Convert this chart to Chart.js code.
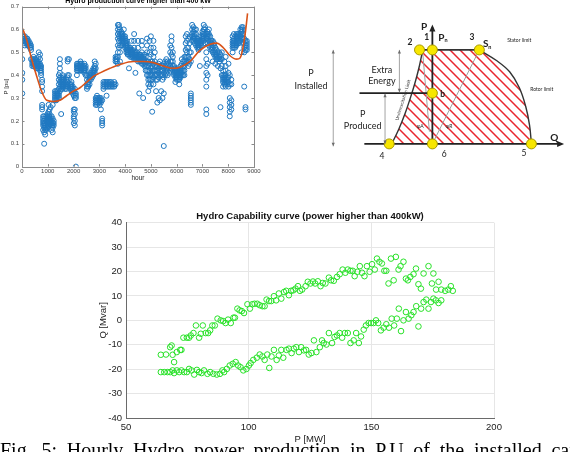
<!DOCTYPE html>
<html><head><meta charset="utf-8">
<script src="https://cdn.jsdelivr.net/npm/chart.js@4.4.1/dist/chart.umd.min.js"></script>
<style>
html,body{margin:0;padding:0;background:#fff;width:570px;height:452px;overflow:hidden;position:relative}
canvas{position:absolute}
#c1{left:0;top:0}
#c2{left:280px;top:0}
#c3{left:0;top:200px}
#cap{position:absolute;left:0;top:439px;width:618px;font-family:"Liberation Serif";font-size:20px;white-space:nowrap;color:#000;text-align:justify;text-align-last:justify;z-index:5}
</style></head>
<body>
<canvas id="c1" width="280" height="184"></canvas>
<canvas id="c2" width="290" height="200"></canvas>
<canvas id="c3" width="570" height="245"></canvas>
<div id="cap">Fig. 5: Hourly Hydro power production in P.U of the installed capacity</div>
<script>
// ---------- Top-left: hourly hydro production (p.u.) ----------
const prodHours = [10,60,110,160,210,260,310,350,400,450,500,550,600,650,700,740,780,820,860,900,940,990,1030,1070,1110,1150,1190,1230,
1280,1330,1380,1430,1470,1520,1570,1620,1670,1720,1770,1820,1870,1920,1970,2010,2050,2090,2130,2170,2220,2270,2320,2370,2420,2470,
2520,2570,2620,2670,2720,2770,2820,2860,2910,2960,3010,3060,3110,3160,3220,3280,3340,3400,3460,3520,3580,3630,3680,3720,3760,3800,
3850,3900,3950,4000,4050,4100,4150,4200,4250,4300,4350,4400,4450,4500,4550,4600,4650,4700,4750,4800,4850,4900,4950,5000,5050,5100,
5150,5200,5250,5300,5350,5400,5450,5500,5550,5600,5650,5700,5750,5800,5850,5900,5950,6000,6050,6100,6150,6200,6250,6300,6350,6400,
6450,6500,6550,6600,6650,6700,6750,6800,6850,6900,6950,7000,7050,7100,7150,7200,7250,7300,7350,7400,7450,7500,7550,7600,7650,7700,
7750,7800,7850,7900,7950,8010,8060,8120,8170,8220,8270,8320,8370,8420,8470,8520,8570,8620,8670,8720];
const prodPu = [
[.55,.56,.57,.47,.41,.38,.32],[.54,.55,.56,.57],[.53,.55,.56,.57],[.54,.55,.56],[.53,.54,.55,.56],[.53,.54,.55],[.52,.53,.54],[.51,.52,.53,.47],
[.44,.45,.46,.47],[.44,.45,.46,.47,.48],[.44,.45,.46,.47],[.43,.44,.45,.46,.47],[.43,.44,.45,.46],[.43,.44,.45,.46,.48,.50],[.42,.43,.44,.45,.47,.49],
[.40,.41,.42,.43,.44],[.33,.35,.37,.38,.27,.25,.26],[.16,.18,.19,.20,.21,.22],[.15,.17,.18,.19,.20,.22,.10],[.14,.16,.17,.18,.19,.21],[.16,.17,.18,.20,.22],
[.17,.19,.20,.21,.22,.23],[.18,.20,.21,.22,.24,.27],[.19,.20,.21,.22,.23,.25],[.18,.19,.20,.21,.26],[.16,.18,.19,.20,.22],[.15,.17,.18,.19,.21,.27],[.18,.19,.20],
[.29,.30,.31,.32,.33],[.29,.30,.31,.32,.33],[.30,.31,.32,.33],[.30,.31,.32,.34,.36,.38,.40],[.33,.35,.37,.39,.41,.43,.45,.47],[.34,.35,.36,.37,.38,.39,.23],
[.34,.35,.36,.37,.38,.40],[.35,.36,.37,.38,.39],[.34,.35,.36,.37],[.34,.35,.36,.38],[.35,.37,.39,.40,.46,.47],[.36,.38,.40,.47],[.34,.35,.36],
[.33,.34,.35,.36,.37],[.32,.33,.34,.35],[.19,.21,.22,.24,.25,.31,.33],[.18,.20,.23,.25,.30,.32,.34],[.30,.31,.32,.00],[.40,.42,.43,.44,.45],
[.42,.43,.44,.45],[.42,.43,.44,.45],[.42,.43,.44,.45,.46],[.42,.43,.44,.45],[.42,.43,.44],[.41,.42,.43,.44,.45],[.40,.42,.43,.44],
[.34,.35,.36,.38,.40],[.35,.36,.37,.39],[.36,.38,.39,.40],[.38,.39,.40,.41],[.39,.40,.41,.42],[.40,.41,.42,.43],[.41,.42,.43,.44,.46],
[.27,.28,.29,.30,.43,.45],[.27,.28,.29,.30,.31],[.28,.29,.30],[.27,.28,.29,.30],[.28,.29,.30,.25],[.18,.19,.20,.21,.29],[.34,.35,.36,.37],
[.35,.36,.37],[.35,.36,.37,.31],[.35,.36,.37],[.35,.36,.37],[.35,.36,.37],[.35,.36],[.35,.36,.37],[.46,.47,.48,.36],[.46,.47,.48],
[.45,.48,.50,.53,.56,.58,.60,.62],[.52,.55,.57,.59,.61,.62],[.46,.50,.53,.56,.58,.60],[.53,.55,.56,.57,.58,.59],[.54,.55,.56,.57,.58],
[.54,.55,.56,.57,.60],[.52,.53,.54,.55,.56,.57],[.50,.51,.52,.53,.54,.55],[.49,.50,.51,.52,.53],[.49,.50,.51,.52,.43],[.48,.49,.50,.51,.52],
[.48,.49,.50,.51,.55],[.48,.49,.50,.51],[.47,.48,.49,.50,.52,.55,.58],[.47,.48,.49,.50,.41],[.47,.48,.49,.50],[.46,.47,.48,.49,.52,.55],
[.46,.47,.48,.49,.32],[.46,.47,.48,.49],[.45,.46,.47,.48,.50,.53,.55],[.45,.46,.47,.48,.30],[.44,.46,.47,.49],[.42,.44,.45,.46,.48],
[.40,.42,.44,.46,.50,.53,.56],[.36,.38,.40,.42,.44,.46,.33],[.35,.38,.40,.42,.45,.50,.55],[.36,.38,.40,.43,.46,.49,.52,.57],[.38,.40,.42,.44,.46,.24],
[.36,.39,.42,.45,.48,.52,.55],[.40,.42,.44,.46,.50],[.38,.40,.42,.44,.33],[.38,.40,.42,.44,.28],[.39,.41,.43,.45,.30],[.40,.42,.44,.46,.29],
[.40,.42,.44,.33],[.38,.40,.42,.44,.30],[.39,.41,.43,.45,.32,.09],[.40,.42,.44,.46],[.41,.43,.45,.47],[.40,.42,.44,.46],[.41,.43,.45],
[.42,.44,.46,.50,.53],[.43,.46,.49,.52,.55,.57],[.44,.46,.48,.50],[.40,.41,.42,.43,.44],[.39,.40,.41,.42,.43,.37],[.38,.39,.40,.41,.42],
[.38,.39,.40,.41,.42,.43],[.38,.39,.40,.41,.42,.36],[.39,.40,.41,.42,.44],[.40,.41,.42,.43,.45,.47],[.40,.42,.44,.46],[.40,.42,.44,.46,.48],
[.45,.48,.51,.54,.57],[.46,.48,.50,.52,.55,.58],[.44,.46,.48,.52,.56],[.45,.47,.50,.54,.57],[.27,.28,.29,.30,.31,.32,.46,.50],
[.55,.57,.58,.60,.62],[.55,.56,.57,.59,.61],[.54,.56,.57,.58,.60],[.53,.55,.56,.58,.60],[.52,.53,.54,.55,.56],[.51,.52,.53,.54,.55],
[.52,.53,.54,.55,.44],[.53,.54,.55,.57],[.55,.56,.57,.58,.59],[.55,.56,.57,.58,.60,.62],[.54,.56,.58,.60,.61],
[.35,.38,.41,.44,.47,.50,.56,.58,.25,.23],[.54,.56,.57,.58,.59,.40,.45],[.53,.55,.57,.58,.60],[.52,.54,.55,.57],[.51,.52,.54,.55],
[.50,.52,.53,.55,.46],[.49,.50,.51,.53,.54],[.48,.49,.50,.52,.45],[.47,.48,.49,.51],[.47,.48,.50,.44],[.46,.47,.48,.50],[.43,.47,.49,.26],
[.40,.44,.47,.50],[.35,.37,.38,.39,.40,.42],[.36,.37,.38,.39,.40,.46],[.35,.37,.38,.40,.42,.44,.48],[.36,.37,.38,.39],[.35,.37,.39,.41,.45],
[.22,.24,.26,.28,.30,.36,.40],[.25,.27,.29,.36,.38],[.50,.52,.53,.54,.55,.57],[.52,.53,.54,.55,.56,.58],[.52,.53,.54,.55,.57],[.53,.54,.56,.57,.58],
[.54,.55,.56,.57,.58],[.54,.55,.56,.57,.58],[.55,.56,.57,.58,.60],[.56,.58,.59,.60,.61,.50],[.54,.56,.58,.60,.61],[.50,.52,.54,.56,.35],
[.51,.53,.55,.25,.26],[.51,.52,.53,.54,.55]];
const fitHours = [0,180,375,570,760,960,1220,1475,1730,1990,2250,2510,2770,3030,3415,3800,4320,4710,5100,5485,5870,6130,6520,6910,7300,7550,7810,8070,8330,8460,8590,8680,8750];
const fitPu = [0.61,0.555,0.47,0.395,0.33,0.29,0.285,0.29,0.31,0.33,0.345,0.37,0.395,0.41,0.43,0.447,0.46,0.46,0.455,0.44,0.43,0.435,0.46,0.51,0.535,0.54,0.52,0.485,0.47,0.475,0.53,0.60,0.67];
const hourTicks = [0,1000,2000,3000,4000,5000,6000,7000,8000,9000];

// ---------- Top-right: capability diagram (Q, P in p.u. of Pn) ----------
const opNames = ['1','2','3','4','5','6','b'];
const opQ = [0,-0.13,0.474,-0.436,1.0,0,0];
const opP = [1,1,1,0,0,0,0.54];
const underexcQ = [-0.41,-0.335,-0.272,-0.219,-0.171,-0.13,-0.097];
const underexcP = [0,0.167,0.334,0.5,0.667,0.834,1];
const statorQ = [-0.13,0.474];
const statorP = [1,1];
const rotorQ = [0.474,0.651,0.780,0.877,0.942,0.981,1.0];
const rotorP = [1,0.884,0.767,0.6,0.4,0.2,0];

// ---------- Bottom: capability curve measured points ----------
const capUpper = [[64.2,-14.1],[66.3,-14.0],[68.0,-11.0],[69.0,-14.1],[68.6,-10.3],[69.6,-17.1],[70.7,-13.0],[72.1,-12.1],[72.6,-12.1],[73.4,-7.1],
[74.8,-7.1],[75.7,-7.1],[76.4,-6.2],[77.5,-5.2],[78.5,-2.1],[79.8,-7.1],[80.5,-5.5],[81.3,-2.1],[82.5,-5.2],[83.5,-5.2],[84.3,-4.1],[85.2,-2.1],
[86.2,-2.1],[87.3,0.7],[88.6,0],[89.6,-0.3],[90.6,-1.1],[91.6,0.3],[92.7,-1.1],[93.8,1.1],[94.4,1.1],[95.4,4.8],[96.3,4.1],[97.2,3.8],[98.1,3.0],
[99.5,6.6],[100.5,4.8],[101.5,6.6],[102.4,6.8],[103.5,6.8],[104.5,6.2],[105.6,5.8],[106.5,5.8],[107.3,8.5],[108.3,7.9],[109.2,7.9],[110.3,9.9],
[111.2,8.2],[112.3,11.0],[113.3,8.9],[114.4,11.6],[115.3,12.1],[116.4,10.3],[117.3,12.1],[118.2,12.3],[119.1,13.0],[120.1,14.0],[120.9,12.1],
[121.8,12.6],[123.2,14.0],[124.1,15.8],[125.2,15.1],[126.2,15.9],[127.1,15.1],[128.2,16.0],[129.3,14.0],[130.2,15.3],[131.3,15.1],[132.7,17.5],
[133.6,16.4],[134.7,16.2],[136.0,17.8],[137.1,18.9],[138.3,20.8],[139.4,19.5],[140.4,20.8],[141.5,20.3],[142.4,20.3],[143.2,18.1],[144.3,19.9],
[145.3,22.2],[146.2,19.5],[147.2,18.1],[148.2,22.2],[149.3,19.9],[150.3,23.0],[151.4,20.8],[152.3,25.3],[153.3,24.0],[154.3,23.3],[155.3,20.3],
[156.1,20.3],[157.0,15.1],[158.0,25.3],[159.1,16.4],[160.0,26.0],[161.1,20.8],[161.9,22.2],[163.1,24.0],[164.1,17.1],[164.9,16.4],[165.9,17.8],
[167.2,18.9],[168.2,21.2],[169.2,14.8],[170.2,13.0],[171.3,19.2],[173.3,22.2],[174.7,15.1],[175.3,19.2],[176.4,12.6],[177.4,15.8],[178.5,12.6],
[180.1,12.1],[181.4,12.6],[182.4,14.0],[183.2,12.1]];
const capLower = [[64.2,-21.2],[65.6,-21.2],[66.9,-21.2],[68.0,-21.2],[69.0,-20.5],[69.6,-21.6],[70.7,-20.5],[71.7,-21.2],[72.6,-20.5],[73.7,-21.2],
[74.8,-21.2],[75.7,-19.9],[76.7,-20.5],[77.8,-22.2],[78.9,-20.3],[79.8,-21.2],[80.8,-21.6],[81.8,-20.5],[83.2,-21.9],[84.3,-21.2],[85.6,-21.9],
[87.0,-22.2],[88.3,-21.9],[89.3,-20.5],[90.0,-21.2],[91.1,-19.9],[92.3,-18.5],[93.5,-17.8],[94.7,-17.1],[95.7,-18.5],[96.7,-19.2],[97.8,-20.5],
[99.1,-19.9],[100.1,-18.5],[100.8,-17.5],[101.9,-16.2],[103.3,-15.3],[104.5,-14.0],[105.6,-14.8],[106.5,-16.2],[107.6,-14.0],[108.4,-19.5],
[109.3,-14.8],[110.3,-12.1],[111.4,-16.2],[112.3,-14.4],[113.3,-12.1],[114.1,-15.3],[115.4,-12.1],[116.4,-11.6],[117.5,-13.4],[118.4,-11.6],
[119.4,-11.0],[120.5,-13.0],[121.4,-11.0],[122.5,-12.3],[123.4,-12.1],[124.5,-14.0],[125.6,-13.4],[126.6,-8.2],[127.6,-13.0],[129.0,-11.0],
[129.9,-8.2],[130.6,-9.3],[131.7,-9.9],[132.7,-5.2],[134.0,-9.3],[135.0,-6.8],[136.0,-6.2],[137.1,-5.2],[138.1,-7.1],[139.2,-5.2],[140.4,-5.2],
[141.5,-9.3],[142.8,-8.2],[143.8,-5.2],[144.9,-9.3],[145.8,-6.6],[146.9,-3.8],[147.8,-2.1],[148.9,-1.1],[149.9,-1.1],[150.9,-1.1],[151.9,0],
[152.8,-1.1],[153.9,-4.1],[155.0,-3.0],[156.1,-1.6],[157.2,-3.0],[158.3,0.7],[159.3,-2.1],[160.4,0.7],[161.2,4.8],[162.1,-4.4],[163.1,0],
[164.1,3.4],[165.2,0.7],[166.3,2.1],[167.2,3.4],[168.3,5.8],[169.2,-2.5],[170.3,4.8],[171.3,7.5],[172.4,8.5],[173.3,4.8],[174.3,7.5],
[175.3,8.9],[176.3,8.2],[177.4,7.1],[178.5,8.2]];
const pTicks = [50,100,150,200];
const qTicks = [-40,-30,-20,-10,0,10,20,30,40];

// ================= helpers =================
const SANS = '"Liberation Sans", Arial, sans-serif';
const boxPlugin = {
  id: 'box',
  afterDraw(chart, args, o) {
    if (!o || !o.on) return;
    const {ctx, chartArea: a, scales: {x, y}} = chart;
    ctx.save();
    ctx.strokeStyle = o.color; ctx.lineWidth = 1;
    ctx.strokeRect(Math.round(a.left) + 0.5, Math.round(a.top) + 0.5, Math.round(a.right - a.left), Math.round(a.bottom - a.top));
    ctx.beginPath();
    const L = o.tick;
    x.ticks.forEach(t => { const px = Math.round(x.getPixelForValue(t.value)) + 0.5;
      ctx.moveTo(px, a.bottom); ctx.lineTo(px, a.bottom - L); ctx.moveTo(px, a.top); ctx.lineTo(px, a.top + L); });
    y.ticks.forEach(t => { const py = Math.round(y.getPixelForValue(t.value)) + 0.5;
      ctx.moveTo(a.left, py); ctx.lineTo(a.left + L, py); ctx.moveTo(a.right, py); ctx.lineTo(a.right - L, py); });
    ctx.stroke();
    ctx.restore();
  }
};
const titlePlugin = {
  id: 'toptitle',
  afterDraw(chart, args, o) {
    if (!o || !o.text) return;
    const {ctx, chartArea: a} = chart;
    ctx.save();
    ctx.font = o.font; ctx.fillStyle = o.color || '#000';
    ctx.textAlign = 'center'; ctx.textBaseline = 'alphabetic';
    ctx.fillText(o.text, (a.left + a.right) / 2, o.y);
    ctx.restore();
  }
};

// ================= Chart 1 =================
const prodPoints = [];
prodHours.forEach((h, i) => prodPu[i].forEach(v => prodPoints.push({x: h, y: v})));
const fitPoints = fitHours.map((h, i) => ({x: h, y: fitPu[i]}));

new Chart(document.getElementById('c1'), {
  type: 'scatter',
  data: { datasets: [
    { data: fitPoints, showLine: true, borderColor: '#D95319', borderWidth: 1.6, pointRadius: 0, cubicInterpolationMode: 'monotone', fill: false },
    { data: prodPoints, pointRadius: 2.5, pointBorderWidth: 1, borderColor: '#1f78c1', backgroundColor: 'rgba(0,0,0,0)', pointBackgroundColor: 'rgba(0,0,0,0)' }
  ]},
  options: {
    responsive: false, animation: false, events: [],
    layout: { padding: { left: 0, right: 26, top: 3, bottom: 2 } },
    plugins: { legend: { display: false }, tooltip: { enabled: false },
      box: { on: true, color: '#8a8a8a', tick: 2.5 },
      toptitle: { text: 'Hydro production curve higher than 400 kW', font: 'bold 7px ' + SANS, y: 2.5 } },
    scales: {
      x: { type: 'linear', min: 0, max: 9000,
        afterBuildTicks: s => { s.ticks = hourTicks.map(v => ({value: v})); },
        afterFit: s => { s.height = 182 - 166.6; },
        ticks: { font: { size: 6, family: SANS }, color: '#444', padding: 1, maxRotation: 0, autoSkip: false, callback: v => String(v) },
        grid: { display: false, drawTicks: false }, border: { display: false },
        title: { display: true, text: 'hour', font: { size: 6.5, family: SANS }, color: '#222', padding: 0 } },
      y: { min: 0, max: 0.7,
        afterFit: s => { s.width = 22; },
        ticks: { stepSize: 0.1, font: { size: 6, family: SANS }, color: '#444', padding: 3 },
        grid: { display: false, drawTicks: false }, border: { display: false },
        title: { display: true, text: 'P [pu]', font: { size: 6, family: SANS }, color: '#222', padding: { top: 3, bottom: 0 } } }
    }
  },
  plugins: [boxPlugin, titlePlugin]
});

// ================= Chart 2 (diagram) =================
function hatchPattern() {
  const s = 10, c = document.createElement('canvas');
  c.width = s; c.height = s;
  const g = c.getContext('2d');
  g.strokeStyle = '#e8262e'; g.lineWidth = 1.5;
  g.beginPath();
  g.moveTo(0, 0); g.lineTo(s, s);
  g.moveTo(s - 2, -2); g.lineTo(s + 2, 2);
  g.moveTo(-2, s - 2); g.lineTo(2, s + 2);
  g.stroke();
  return g.createPattern(c, 'repeat');
}
const zip = (qs, ps) => qs.map((q, i) => ({x: q, y: ps[i]}));
const hatchPts = zip(underexcQ, underexcP).concat(zip(statorQ, statorP).slice(1), zip(rotorQ, rotorP).slice(1));
const lineDs = (pts, color, w, extra) => Object.assign({ data: pts, showLine: true, borderColor: color, borderWidth: w, pointRadius: 0, fill: false }, extra || {});

const diagLabels = [
  {t: 'P', q: -1.225, p: 0.757, f: '9px Lato'},
  {t: 'Installed', q: -1.225, p: 0.617, f: '9px Lato'},
  {t: 'Extra', q: -0.51, p: 0.79, f: '9px Lato'},
  {t: 'Energy', q: -0.51, p: 0.667, f: '9px Lato'},
  {t: 'P', q: -0.704, p: 0.317, f: '9px Lato'},
  {t: 'Produced', q: -0.704, p: 0.19, f: '9px Lato'},
  {t: 'Stator limit', q: 0.877, p: 1.10, f: '5px Lato'},
  {t: 'Rotor limit', q: 1.104, p: 0.584, f: '5px Lato'},
  {t: 'P', q: -0.084, p: 1.25, f: 'bold 10px Lato'},
  {t: '1', q: -0.058, p: 1.134, f: 'bold 8.5px Lato'},
  {t: '2', q: -0.227, p: 1.077, f: 'bold 8.5px Lato'},
  {t: '3', q: 0.40, p: 1.134, f: 'bold 8.5px Lato'},
  {t: 'Q', q: 1.232, p: 0.067, f: 'bold 10px Lato'},
  {t: '4', q: -0.51, p: -0.133, f: '8.5px Lato'},
  {t: '6', q: 0.119, p: -0.113, f: '8.5px Lato'},
  {t: '5', q: 0.925, p: -0.10, f: '8.5px Lato'},
  {t: 'b', q: 0.103, p: 0.527, f: 'bold 8.5px Lato'},
  {t: 'φA', q: -0.123, p: 0.19, f: '5px Lato'},
  {t: 'φR', q: 0.167, p: 0.19, f: '5px Lato'}
];
const subLabels = [ {t: 'P', s: 'n', q: 0.06, p: 1.134}, {t: 'S', s: 'n', q: 0.51, p: 1.06} ];
const dimArrows = [ {q: -1.001, p0: 1.0, p1: -0.026}, {q: -0.333, p0: 1.0, p1: 0.55}, {q: -0.478, p0: 0.533, p1: 0.0} ];

const diagPlugin = {
  id: 'diag',
  afterDatasetsDraw(chart) {
    const {ctx, scales: {x, y}} = chart;
    const X = q => x.getPixelForValue(q), Y = p => y.getPixelForValue(p);
    ctx.save();
    ctx.strokeStyle = '#8c8c8c'; ctx.fillStyle = '#6c6c6c'; ctx.lineWidth = 0.8;
    dimArrows.forEach(a => {
      const px = X(a.q), y0 = Y(a.p0), y1 = Y(a.p1);
      ctx.beginPath(); ctx.moveTo(px, y0); ctx.lineTo(px, y1); ctx.stroke();
      [[y0, 1], [y1, -1]].forEach(([yy, d]) => {
        ctx.beginPath(); ctx.moveTo(px, yy); ctx.lineTo(px - 1.6, yy + d * 3.5); ctx.lineTo(px + 1.6, yy + d * 3.5); ctx.closePath(); ctx.fill();
      });
    });
    ctx.fillStyle = '#222';
    const tipP = Y(1.27), ax = X(0);
    ctx.beginPath(); ctx.moveTo(ax, tipP); ctx.lineTo(ax - 3, tipP + 7); ctx.lineTo(ax + 3, tipP + 7); ctx.closePath(); ctx.fill();
    const tipQ = X(1.33), ay = Y(0);
    ctx.beginPath(); ctx.moveTo(tipQ, ay); ctx.lineTo(tipQ - 7, ay - 3); ctx.lineTo(tipQ - 7, ay + 3); ctx.closePath(); ctx.fill();
    ctx.fillStyle = '#222'; ctx.textAlign = 'center'; ctx.textBaseline = 'middle';
    diagLabels.forEach(l => { ctx.font = l.f; ctx.fillText(l.t, X(l.q), Y(l.p)); });
    subLabels.forEach(l => {
      ctx.font = 'bold 10px Lato'; ctx.textAlign = 'left';
      const px = X(l.q), py = Y(l.p);
      ctx.fillText(l.t, px, py);
      const w = ctx.measureText(l.t).width;
      ctx.font = 'bold 5.5px Lato'; ctx.fillText(l.s, px + w, py + 3);
    });
    ctx.save();
    ctx.translate(X(-0.297), Y(0.467)); ctx.rotate(-73 * Math.PI / 180);
    ctx.font = '4.5px Lato'; ctx.textAlign = 'center'; ctx.fillStyle = '#333';
    ctx.fillText('Underexcitation Limit', 0, 0);
    ctx.restore();
    ctx.restore();
  }
};

new Chart(document.getElementById('c2'), {
  type: 'scatter',
  data: { datasets: [
    { data: zip(opQ, opP), pointRadius: 5, pointBorderWidth: 1, pointBorderColor: '#a89a00', pointBackgroundColor: '#f7e600', borderColor: '#a89a00', backgroundColor: '#f7e600' },
    lineDs([{x: 0, y: 0}, {x: 0, y: 1.24}], '#222', 1.8),
    lineDs([{x: -0.687, y: 0}, {x: 1.31, y: 0}], '#222', 1.8),
    lineDs([{x: -0.736, y: 0.54}, {x: 0, y: 0.54}], '#222', 1.8),
    lineDs(zip(underexcQ, underexcP), '#333', 1.4, { cubicInterpolationMode: 'monotone' }),
    lineDs(zip(statorQ, statorP), '#333', 1.6),
    lineDs(zip(rotorQ, rotorP), '#333', 1.4, { tension: 0.4 }),
    lineDs([{x: 0, y: 0}, {x: 0.474, y: 1}], '#a0a0a0', 1),
    lineDs([{x: -0.10, y: 1}, {x: -0.03, y: 0.13}], '#a0a0a0', 1),
    { data: hatchPts, showLine: true, borderWidth: 0, borderColor: 'rgba(0,0,0,0)', pointRadius: 0, fill: 'origin', backgroundColor: hatchPattern(), cubicInterpolationMode: 'monotone' }
  ]},
  options: {
    responsive: false, animation: false, events: [],
    layout: { padding: 0 },
    plugins: { legend: { display: false }, tooltip: { enabled: false } },
    scales: {
      x: { type: 'linear', display: false, min: -1.478, max: 1.329 },
      y: { type: 'linear', display: false, min: -0.533, max: 1.467 }
    }
  },
  plugins: [diagPlugin]
});

// ================= Chart 3 =================
new Chart(document.getElementById('c3'), {
  type: 'scatter',
  data: { datasets: [
    { data: capUpper.concat(capLower).map(d => ({x: d[0], y: d[1]})), pointRadius: 2.8, pointBorderWidth: 1,
      borderColor: 'rgb(40,225,40)', backgroundColor: 'rgba(0,0,0,0)', pointBackgroundColor: 'rgba(0,0,0,0)' }
  ]},
  options: {
    responsive: false, animation: false, events: [],
    layout: { padding: { left: 98, right: 76, top: 22.7, bottom: 0 } },
    plugins: { legend: { display: false }, tooltip: { enabled: false },
      toptitle: { text: 'Hydro Capability curve (power higher than 400kW)', font: 'bold 9.5px ' + SANS, y: 19, color: '#111' } },
    scales: {
      x: { type: 'linear', min: 50, max: 200,
        afterBuildTicks: s => { s.ticks = pTicks.map(v => ({value: v})); },
        afterFit: s => { s.height = 27; },
        ticks: { font: { size: 9.5, family: SANS }, color: '#222', padding: 4, maxRotation: 0, autoSkip: false },
        grid: { color: '#e6e6e6', drawTicks: false }, border: { color: '#6a6a6a' },
        title: { display: true, text: 'P [MW]', font: { size: 9.5, family: SANS }, color: '#222', padding: 0 } },
      y: { min: -40, max: 40,
        afterBuildTicks: s => { s.ticks = qTicks.map(v => ({value: v})); },
        afterFit: s => { s.width = 28; },
        ticks: { font: { size: 9.5, family: SANS }, color: '#222', padding: 4, autoSkip: false },
        grid: { color: '#e6e6e6', drawTicks: false }, border: { color: '#6a6a6a' },
        title: { display: true, text: 'Q [Mvar]', font: { size: 9.5, family: SANS }, color: '#222', padding: 0 } }
    }
  },
  plugins: [titlePlugin]
});
</script>
</body></html>
